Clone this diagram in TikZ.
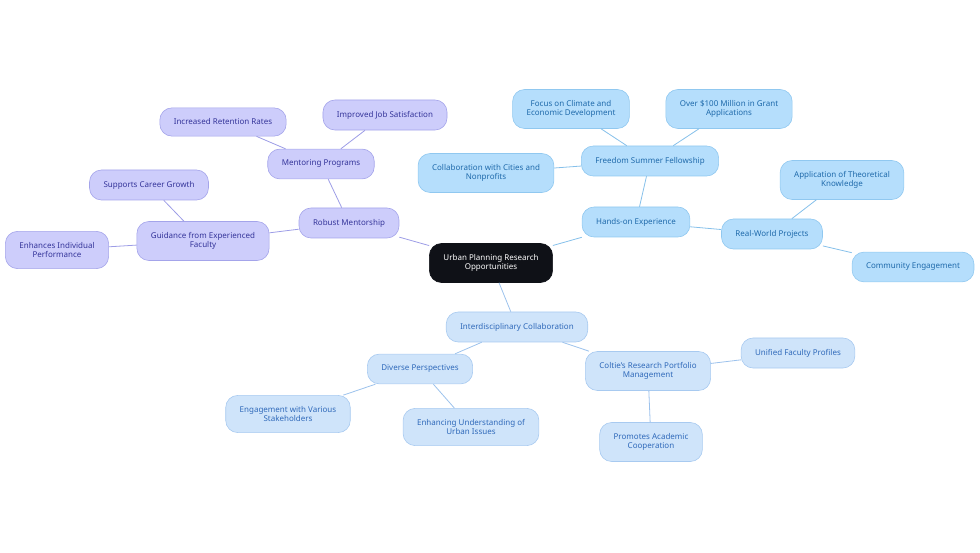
\documentclass[tikz,border=0pt]{standalone}
\usepackage{fontspec}
\setmainfont{Noto Sans}
\usepackage{tikz}
\usetikzlibrary{positioning}
\usepackage{xcolor}
\definecolor{roxofill}{HTML}{CDCDFB}
\definecolor{roxoline}{HTML}{A4A4EA}
\definecolor{roxotext}{HTML}{34349A}
\definecolor{roxoedge}{HTML}{9D9DE6}
\definecolor{azulfill}{HTML}{B5DEFC}
\definecolor{azulline}{HTML}{90C8F0}
\definecolor{azultext}{HTML}{1F6AAB}
\definecolor{azuledge}{HTML}{86C0EA}
\definecolor{clarofill}{HTML}{CFE4FA}
\definecolor{claroline}{HTML}{A8CAF0}
\definecolor{clarotext}{HTML}{2F69BA}
\definecolor{claroedge}{HTML}{9CC2EC}
\definecolor{raiz}{HTML}{0F1117}

\begin{document}
\begin{tikzpicture}[x=1pt, y=-1pt,
        font=\fontsize{8}{9}\selectfont,
        mapnode/.style={draw, rounded corners=12pt, align=center, inner xsep=14pt, inner ysep=11pt, line width=0.6pt},
        rootnode/.style={mapnode, fill=raiz, draw=raiz, text=white, inner xsep=14pt, minimum height=39pt},
        purplenode/.style={mapnode, fill=roxofill, draw=roxoline, text=roxotext},
        bluenode/.style={mapnode, fill=azulfill, draw=azulline, text=azultext},
        palenode/.style={mapnode, fill=clarofill, draw=claroline, text=clarotext},
        purpleedge/.style={draw=roxoedge, line width=0.8pt},
        blueedge/.style={draw=azuledge, line width=0.8pt},
        paleedge/.style={draw=claroedge, line width=0.8pt}]
        \useasboundingbox (0,0) rectangle (980,553);

        % Central topic
        \node[rootnode] (root) at (491,263) {Urban Planning Research\\Opportunities};

        % Mentorship branch
        \node[purplenode] (mentor) at (349,223) {Robust Mentorship};
        \node[purplenode] (programs) at (321,164) {Mentoring Programs};
        \node[purplenode] (retention) at (223,122) {Increased Retention Rates};
        \node[purplenode] (jobsat) at (385,115) {Improved Job Satisfaction};
        \node[purplenode] (guidance) at (203,241) {Guidance from Experienced\\Faculty};
        \node[purplenode] (career) at (149,185) {Supports Career Growth};
        \node[purplenode] (perform) at (57,250) {Enhances Individual\\Performance};

        % Hands-on branch
        \node[bluenode] (handson) at (636,222) {Hands-on Experience};
        \node[bluenode] (freedom) at (650,161) {Freedom Summer Fellowship};
        \node[bluenode] (climate) at (571,109) {Focus on Climate and\\Economic Development};
        \node[bluenode] (grant) at (729,109) {Over \$100 Million in Grant\\Applications};
        \node[bluenode] (cities) at (486,173) {Collaboration with Cities and\\Nonprofits};
        \node[bluenode] (realworld) at (772,234) {Real-World Projects};
        \node[bluenode] (theory) at (842,180) {Application of Theoretical\\Knowledge};
        \node[bluenode] (community) at (913,267) {Community Engagement};

        % Collaboration branch
        \node[palenode] (interdis) at (517,327) {Interdisciplinary Collaboration};
        \node[palenode] (diverse) at (420,369) {Diverse Perspectives};
        \node[palenode] (stake) at (288,414) {Engagement with Various\\Stakeholders};
        \node[palenode] (urban) at (471,427) {Enhancing Understanding of\\Urban Issues};
        \node[palenode] (coltie) at (648,371) {Coltie's Research Portfolio\\Management};
        \node[palenode] (unified) at (798,353) {Unified Faculty Profiles};
        \node[palenode] (promotes) at (651,442) {Promotes Academic\\Cooperation};

        % Connections
        \draw[purpleedge] (root) -- (mentor);
        \draw[purpleedge] (mentor) -- (programs);
        \draw[purpleedge] (programs) -- (retention);
        \draw[purpleedge] (programs) -- (jobsat);
        \draw[purpleedge] (mentor) -- (guidance);
        \draw[purpleedge] (guidance) -- (career);
        \draw[purpleedge] (guidance) -- (perform);

        \draw[blueedge] (root) -- (handson);
        \draw[blueedge] (handson) -- (freedom);
        \draw[blueedge] (freedom) -- (climate);
        \draw[blueedge] (freedom) -- (grant);
        \draw[blueedge] (freedom) -- (cities);
        \draw[blueedge] (handson) -- (realworld);
        \draw[blueedge] (realworld) -- (theory);
        \draw[blueedge] (realworld) -- (community);

        \draw[paleedge] (root) -- (interdis);
        \draw[paleedge] (interdis) -- (diverse);
        \draw[paleedge] (diverse) -- (stake);
        \draw[paleedge] (diverse) -- (urban);
        \draw[paleedge] (interdis) -- (coltie);
        \draw[paleedge] (coltie) -- (unified);
        \draw[paleedge] (coltie) -- (promotes);

    \end{tikzpicture}
\end{document}
